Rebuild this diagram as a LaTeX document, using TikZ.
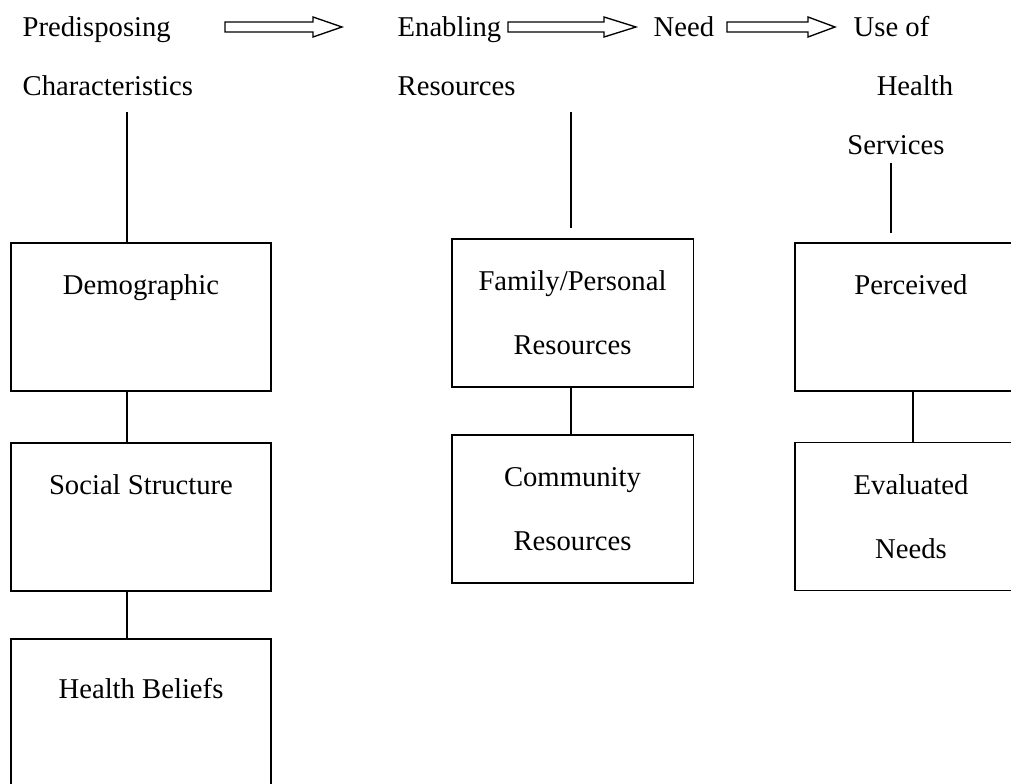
\documentclass[tikz,border=0pt]{standalone}
\usepackage{fontspec}
\setmainfont{Liberation Serif}

\begin{document}
\begin{tikzpicture}[x=0.75pt,y=-0.75pt,line width=1pt,
    lbl/.style={inner sep=0pt,font=\fontsize{21.5}{26}\selectfont},
    box/.style={draw,align=center,inner sep=0pt,minimum width=174pt,minimum height=111pt,
      font=\fontsize{21.5}{48}\selectfont}]
  \clip (0,0) rectangle (1011,784);
  \node[lbl,anchor=base west] (pred) at (22,37) {Predisposing};
  \node[lbl,anchor=base west] (chr) at (22,96) {Characteristics};
  \node[lbl,anchor=base west] (enab) at (397,37) {Enabling};
  \node[lbl,anchor=base west] (res) at (397,96) {Resources};
  \node[lbl,anchor=base west] (need) at (653,37) {Need};
  \node[lbl,anchor=base west] (use) at (853,37) {Use of};
  \node[lbl,anchor=base] (hlth) at (915,96) {Health};
  \node[lbl,anchor=base] (serv) at (896,155) {Services};
  \foreach \a/\b/\c in {225/313/342,508/604/636,727/808/835}
    \draw (\a,22) -- (\b,22) -- (\b,17) -- (\c,27) -- (\b,37) -- (\b,32) -- (\a,32) -- cycle;
  \node[box,minimum width=195pt] (demo) at (141,317) {Demographic\\\phantom{D}};
  \node[box,minimum width=195pt] (soc) at (141,517) {Social Structure\\\phantom{D}};
  \node[box,minimum width=195pt,minimum height=121.5pt] (hb) at (141,720) {Health Beliefs\\\phantom{D}};
  \node[box,minimum width=181pt] (fam) at (572.5,313) {Family/Personal\\Resources};
  \node[box,minimum width=181pt] (comm) at (572.5,509) {Community\\Resources};
  \node[box] (perc) at (911,317) {Perceived\\\phantom{D}};
  \node[box] (eval) at (911,516.5) {Evaluated\\Needs};
  \coordinate (c1) at (127,112);
  \coordinate (c2) at (571,112);
  \coordinate (c3) at (891,163);
  \draw (c1) -- (c1 |- demo.north);
  \draw (demo.south -| c1) -- (soc.north -| c1);
  \draw (soc.south -| c1) -- (hb.north -| c1);
  \draw (c2) -- ++(0,116);
  \draw (fam.south -| c2) -- (comm.north -| c2);
  \draw (c3) -- ++(0,70);
  \draw (perc.south -| 913,0) -- (eval.north -| 913,0);
\end{tikzpicture}
\end{document}
